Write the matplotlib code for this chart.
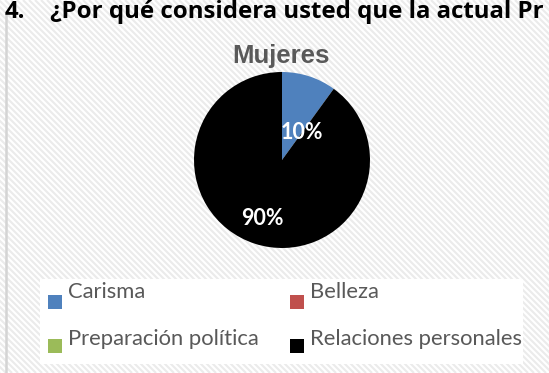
import matplotlib
matplotlib.use("Agg")
from matplotlib import pyplot as plt
from matplotlib.patches import Rectangle
import numpy as np

# Survey answers, women only
categories = ["Carisma", "Belleza", "Preparación política", "Relaciones personales"]
values = [10, 0, 0, 90]
colors = ["#4F81BD", "#C0504D", "#9BBB59", "#000000"]

question_num = "4."
question = "¿Por qué considera usted que la actual Pr"
chart_title = "Mujeres"

W, H = 549, 373
fig = plt.figure(figsize=(W / 100, H / 100), dpi=100)
fig.patch.set_facecolor("white")

# full-figure axes in pixel units for the background and legend
bg = fig.add_axes([0, 0, 1, 1])
bg.set_xlim(0, W)
bg.set_ylim(H, 0)
bg.axis("off")

# diagonal stripe pattern
for x0 in np.arange(-H, W + 6, 6):
    bg.plot([x0, x0 + H], [0, H], color="#ebebeb", lw=1.5, solid_capstyle="butt", zorder=0)
bg.plot([5.5, 5.5], [13, H], color="#d4d4d4", lw=1.8, zorder=1)

# question heading
head = dict(fontsize=17.3, fontweight="bold", family="Open Sans", color="black",
            va="baseline", ha="left", zorder=3)
bg.text(5, 17.5, question_num, **head)
bg.text(50, 17.5, question, **head)

bg.text(281, 63, chart_title, fontsize=18.5, fontweight="bold", family="Liberation Sans",
        color="#595959", va="baseline", ha="center", zorder=3)

# legend box
bg.add_patch(Rectangle((40, 279), 483, 85, facecolor="white", edgecolor="none", zorder=2))
col_x = [48, 290]
marker_y = [295, 339]
text_y = [298, 345]
for i, (cat, col) in enumerate(zip(categories, colors)):
    x = col_x[i % 2]
    bg.add_patch(Rectangle((x, marker_y[i // 2]), 14, 14, facecolor=col, edgecolor="none", zorder=3))
    bg.text(x + 20, text_y[i // 2], cat, fontsize=15.8, family="Lato", color="#595959",
            va="baseline", ha="left", zorder=3)

# pie
cx, cy, r = 282, 160, 88
pax = fig.add_axes([(cx - r) / W, (H - cy - r) / H, 2 * r / W, 2 * r / H])
wedges, _, autotexts = pax.pie(values, colors=colors, startangle=90, counterclock=False,
                               autopct=lambda p: f"{p:.0f}%" if p > 0 else "",
                               wedgeprops=dict(linewidth=0),
                               textprops=dict(color="white", fontsize=15.5, fontweight="bold",
                                              family="Lato"))
pax.set_xlim(-1, 1)
pax.set_ylim(-1, 1)
pax.set_aspect("auto")
label_pos = {0: (0.227, 0.307), 3: (-0.227, -0.66)}
for i, t in enumerate(autotexts):
    if i in label_pos:
        t.set_position(label_pos[i])
        t.set_ha("center")
        t.set_va("center")

fig.savefig("out.png", dpi=100)
